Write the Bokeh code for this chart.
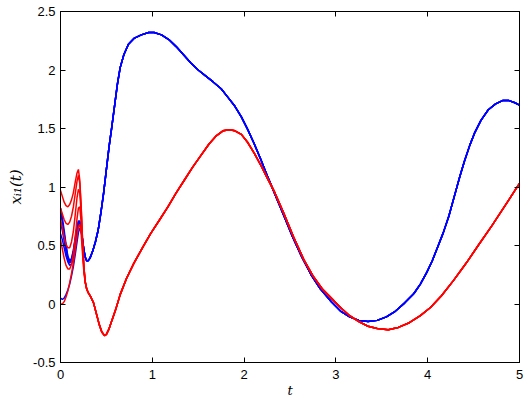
from bokeh.plotting import figure
from bokeh.models import FixedTicker, LinearAxis, Range1d, CustomJSTickFormatter
from bokeh.embed import file_html
from bokeh.resources import INLINE

# ---------------- data ----------------
x_ticks = [0, 1, 2, 3, 4, 5]
x_tick_labels = ["0", "1", "2", "3", "4", "5"]
y_ticks = [-0.5, 0, 0.5, 1, 1.5, 2, 2.5]
y_tick_labels = ["-0.5", "0", "0.5", "1", "1.5", "2", "2.5"]

# initial transient (t <= 0.285), five agents per group
t_tr = [0.0, 0.02, 0.04, 0.06, 0.08, 0.10, 0.12, 0.14, 0.16, 0.18, 0.195, 0.21, 0.225, 0.24, 0.255, 0.27, 0.285]
red_tr_1 = [0.97, 0.92, 0.87, 0.84, 0.83, 0.85, 0.89, 0.95, 1.04, 1.12, 1.15, 1.06, 0.84, 0.55, 0.32, 0.19, 0.13]
red_tr_2 = [0.82, 0.77, 0.72, 0.69, 0.68, 0.70, 0.75, 0.83, 0.94, 1.05, 1.10, 1.03, 0.82, 0.54, 0.31, 0.19, 0.13]
red_tr_3 = [0.72, 0.65, 0.57, 0.51, 0.48, 0.48, 0.53, 0.62, 0.76, 0.91, 0.98, 0.95, 0.78, 0.52, 0.31, 0.19, 0.13]
red_tr_4 = [0.55, 0.47, 0.39, 0.33, 0.30, 0.30, 0.34, 0.43, 0.57, 0.73, 0.82, 0.83, 0.70, 0.48, 0.29, 0.18, 0.13]
red_tr_5 = [0.00, 0.00, 0.02, 0.06, 0.11, 0.18, 0.26, 0.35, 0.46, 0.58, 0.66, 0.68, 0.60, 0.43, 0.27, 0.18, 0.13]

blue_tr_1 = [0.82, 0.74, 0.63, 0.51, 0.41, 0.37, 0.39, 0.46, 0.56, 0.66, 0.71, 0.71, 0.65, 0.55, 0.46, 0.40, 0.37]
blue_tr_2 = [0.78, 0.70, 0.60, 0.49, 0.40, 0.36, 0.38, 0.45, 0.55, 0.65, 0.70, 0.70, 0.64, 0.55, 0.46, 0.40, 0.37]
blue_tr_3 = [0.70, 0.63, 0.54, 0.45, 0.38, 0.35, 0.37, 0.43, 0.53, 0.63, 0.69, 0.70, 0.64, 0.55, 0.46, 0.40, 0.37]
blue_tr_4 = [0.60, 0.55, 0.48, 0.41, 0.36, 0.33, 0.34, 0.40, 0.50, 0.61, 0.67, 0.69, 0.64, 0.55, 0.46, 0.40, 0.37]
blue_tr_5 = [0.05, 0.04, 0.05, 0.08, 0.12, 0.17, 0.24, 0.32, 0.42, 0.53, 0.61, 0.65, 0.62, 0.54, 0.46, 0.40, 0.37]

# common (synchronised) trajectory after t = 0.3
t_red = [0.30, 0.33, 0.36, 0.39, 0.42, 0.45, 0.48, 0.50, 0.53, 0.56, 0.60, 0.65, 0.72, 0.80, 0.90,
         0.98, 1.08, 1.17, 1.26, 1.35, 1.44, 1.53, 1.62, 1.70, 1.77, 1.84, 1.90, 1.97, 2.04, 2.11,
         2.18, 2.25, 2.33, 2.43, 2.54, 2.65, 2.75, 2.85, 2.95, 3.05, 3.15, 3.25, 3.35, 3.45, 3.57,
         3.68, 3.80, 3.92, 4.03, 4.15, 4.28, 4.42, 4.55, 4.70, 4.85, 5.00]
red_main = [0.10, 0.06, 0.01, -0.08, -0.17, -0.24, -0.27, -0.26, -0.21, -0.14, -0.05, 0.08, 0.22, 0.35, 0.49,
            0.60, 0.72, 0.83, 0.95, 1.06, 1.17, 1.27, 1.37, 1.44, 1.48, 1.49, 1.48, 1.45, 1.38, 1.29,
            1.19, 1.08, 0.96, 0.78, 0.57, 0.38, 0.24, 0.13, 0.05, -0.03, -0.10, -0.15, -0.19, -0.21, -0.22,
            -0.20, -0.16, -0.10, -0.03, 0.07, 0.20, 0.35, 0.50, 0.67, 0.85, 1.03]

t_blue = [0.30, 0.32, 0.35, 0.38, 0.41, 0.44, 0.47, 0.50, 0.53, 0.56, 0.59, 0.62, 0.65, 0.69, 0.74,
          0.80, 0.88, 0.96, 1.02, 1.10, 1.18, 1.26, 1.34, 1.42, 1.50, 1.58, 1.66, 1.75, 1.82, 1.90,
          1.97, 2.04, 2.11, 2.18, 2.25, 2.33, 2.43, 2.53, 2.63, 2.73, 2.83, 2.95, 3.05, 3.15, 3.25,
          3.35, 3.45, 3.55, 3.65, 3.75, 3.85, 3.92, 3.99, 4.05, 4.11, 4.17, 4.23, 4.29, 4.35, 4.40,
          4.46, 4.51, 4.58, 4.66, 4.74, 4.82, 4.88, 4.95, 5.00]
blue_main = [0.37, 0.39, 0.45, 0.53, 0.63, 0.78, 0.95, 1.15, 1.35, 1.52, 1.70, 1.88, 2.02, 2.13, 2.22,
             2.27, 2.30, 2.32, 2.32, 2.30, 2.26, 2.20, 2.13, 2.06, 2.00, 1.95, 1.90, 1.84, 1.77, 1.69,
             1.60, 1.49, 1.37, 1.24, 1.10, 0.95, 0.76, 0.57, 0.40, 0.25, 0.13, 0.02, -0.06, -0.11, -0.14,
             -0.15, -0.14, -0.11, -0.06, 0.01, 0.09, 0.17, 0.27, 0.37, 0.49, 0.61, 0.75, 0.92, 1.09, 1.22,
             1.36, 1.46, 1.57, 1.66, 1.71, 1.74, 1.74, 1.72, 1.70]

red_tr = [red_tr_1, red_tr_2, red_tr_3, red_tr_4, red_tr_5]
blue_tr = [blue_tr_1, blue_tr_2, blue_tr_3, blue_tr_4, blue_tr_5]

# ---------------- figure ----------------
p = figure(width=529, height=400, output_backend="svg", toolbar_location=None,
           x_range=Range1d(0, 5), y_range=Range1d(-0.5, 2.5),
           min_border_left=60, min_border_right=10, min_border_top=11, min_border_bottom=37)
p.background_fill_color = "white"
p.border_fill_color = "white"
p.outline_line_color = "black"
p.outline_line_width = 1
p.grid.visible = False

RED = "#ff0000"
BLUE = "#0000ff"
LW = 1.5

for ys in blue_tr:
    p.line(t_tr + t_blue, ys + blue_main, line_color=BLUE, line_width=LW)
for ys in red_tr:
    p.line(t_tr + t_red, ys + red_main, line_color=RED, line_width=LW)

tick_font = "Liberation Sans"

p.xaxis.ticker = FixedTicker(ticks=x_ticks)
p.yaxis.ticker = FixedTicker(ticks=y_ticks)
p.xaxis.major_label_overrides = {t: l for t, l in zip(x_ticks, x_tick_labels)}
p.yaxis.major_label_overrides = {t: l for t, l in zip(y_ticks, y_tick_labels)}

for ax in (p.xaxis[0], p.yaxis[0]):
    ax.major_tick_in = 5
    ax.major_tick_out = 0
    ax.minor_tick_line_color = None
    ax.axis_line_color = "black"
    ax.major_tick_line_color = "black"
    ax.major_label_text_font = tick_font
    ax.major_label_text_font_size = "13px"
    ax.major_label_text_color = "black"
    ax.axis_label_text_font = "DejaVu Serif"
    ax.axis_label_text_font_style = "italic"
    ax.axis_label_text_color = "black"

p.xaxis.axis_label = "t"
p.xaxis.axis_label_text_font_size = "13px"
p.xaxis.major_label_standoff = 7
p.xaxis.axis_label_standoff = 1
p.yaxis.axis_label = "xᵢ₁(t)"
p.yaxis.axis_label_text_font_size = "15px"
p.yaxis.major_label_standoff = 5
p.yaxis.axis_label_standoff = 5

# mirrored tick marks (MATLAB box style)
blank = CustomJSTickFormatter(code="return ''")
ax_r = LinearAxis(ticker=FixedTicker(ticks=y_ticks), formatter=blank,
                  major_tick_in=5, major_tick_out=0, minor_tick_line_color=None,
                  major_label_standoff=0, axis_line_color="black")
ax_t = LinearAxis(ticker=FixedTicker(ticks=x_ticks), formatter=blank,
                  major_tick_in=5, major_tick_out=0, minor_tick_line_color=None,
                  major_label_standoff=0, axis_line_color="black")
p.add_layout(ax_r, "right")
p.add_layout(ax_t, "above")

open("out.html", "w").write(file_html(p, INLINE))
